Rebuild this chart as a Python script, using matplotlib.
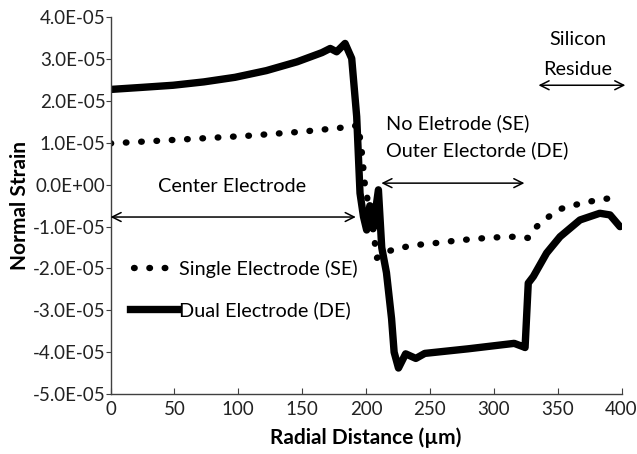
import numpy as np
import matplotlib.pyplot as plt
from matplotlib.lines import Line2D
from matplotlib.ticker import FuncFormatter

plt.rcParams['font.family'] = ['Lato', 'DejaVu Sans']

# strain values are given in units of 1e-5
de_x = [0, 25, 49, 73, 97.5, 122, 146, 165.5, 172, 177, 183.6, 188.8, 192.7, 195.3,
        198, 200.5, 203, 205.5, 209.7, 212.3, 216, 220, 222, 225.4, 231, 239, 246,
        280, 316, 323, 324.5, 327, 331, 341.4, 351.9, 367.5, 383, 391, 398.8]
de_y = [2.28, 2.33, 2.38, 2.46, 2.57, 2.73, 2.94, 3.16, 3.26, 3.18, 3.38, 3.02, 1.63, -0.2,
        -0.76, -1.08, -0.5, -1.05, -0.12, -1.5, -2.1, -3.2, -4.0, -4.38, -4.04, -4.15, -4.03,
        -3.92, -3.79, -3.87, -3.89, -2.35, -2.19, -1.63, -1.24, -0.84, -0.68, -0.72, -1.0]

se_x = [0, 59.6, 106.6, 150, 188.8, 194, 197, 199, 202, 205.7, 208.4, 216, 224, 234.4,
        247.5, 259, 271, 282.7, 294.5, 306, 318, 327, 333.6, 342.7, 351.9, 363.6, 375.3,
        385.8, 398.8]
se_y = [0.99, 1.09, 1.17, 1.27, 1.39, 1.43, 0.71, 0.04, -0.5, -1.08, -1.75, -1.6, -1.53,
        -1.46, -1.41, -1.38, -1.33, -1.30, -1.27, -1.25, -1.24, -1.27, -1.0, -0.77, -0.58,
        -0.48, -0.40, -0.34, -0.30]

x_ticks = [0, 50, 100, 150, 200, 250, 300, 350, 400]
y_ticks = [4, 3, 2, 1, 0, -1, -2, -3, -4, -5]

dot_style = (0, (0.1, 2.3))
fs = 13.5
fs_note = 14.3

fig = plt.figure(figsize=(6.37, 4.54), dpi=100)
ax = fig.add_axes([0.1735, 0.1322, 0.8022, 0.8293])

ax.plot(se_x, np.array(se_y) * 1e-5, color='black', lw=4.6, linestyle=dot_style,
        dash_capstyle='round')
ax.plot(de_x, np.array(de_y) * 1e-5, color='black', lw=5.3, solid_joinstyle='round',
        solid_capstyle='round')

ax.set_xlim(0, 400)
ax.set_ylim(-5e-5, 4e-5)
ax.set_xticks(x_ticks)
ax.set_yticks(np.array(y_ticks) * 1e-5)
ax.yaxis.set_major_formatter(FuncFormatter(lambda v, p: '%.1E' % v))

for s in ['top', 'right']:
    ax.spines[s].set_visible(False)
for s in ['left', 'bottom']:
    ax.spines[s].set_color('#404040')
    ax.spines[s].set_linewidth(1)
ax.tick_params(axis='y', direction='out', length=3.5, color='#404040', labelsize=fs,
               labelcolor='#222222', pad=0)
ax.tick_params(axis='x', direction='in', length=4, color='#404040', labelsize=fs,
               labelcolor='#222222', pad=5)

ax.set_xlabel('Radial Distance (µm)', fontsize=15, fontweight='bold', labelpad=7)
ax.set_ylabel('Normal Strain', fontsize=15, fontweight='bold', labelpad=2)

# annotations
arrow = dict(arrowstyle='<->', color='black', lw=1.1, mutation_scale=16,
             shrinkA=0, shrinkB=0)
ax.annotate('', xy=(0, -0.77e-5), xytext=(192, -0.77e-5), arrowprops=arrow)
ax.text(95, -0.03e-5, 'Center Electrode', fontsize=fs_note, ha='center', va='center')

ax.annotate('', xy=(212, 0.04e-5), xytext=(324, 0.04e-5), arrowprops=arrow)
ax.text(216, 1.48e-5, 'No Eletrode (SE)', fontsize=fs_note, ha='left', va='center')
ax.text(216, 0.83e-5, 'Outer Electorde (DE)', fontsize=fs_note, ha='left', va='center')

ax.annotate('', xy=(335, 2.38e-5), xytext=(403, 2.38e-5), arrowprops=arrow,
            annotation_clip=False)
ax.text(366, 3.48e-5, 'Silicon', fontsize=fs_note, ha='center', va='center')
ax.text(366, 2.76e-5, 'Residue', fontsize=fs_note, ha='center', va='center')

handles = [Line2D([], [], color='black', lw=4.6, linestyle=(1.77, (0.1, 2.3)),
                  dash_capstyle='round'),
           Line2D([], [], color='black', lw=5.3)]
ax.legend(handles, ['Single Electrode (SE)', 'Dual Electrode (DE)'], loc='center left',
          bbox_to_anchor=(0.038, 0.2776), frameon=False, fontsize=fs_note,
          handlelength=2.35, handletextpad=0.1, labelspacing=1.2, borderpad=0,
          borderaxespad=0)

plt.savefig('out.png', dpi=100)
